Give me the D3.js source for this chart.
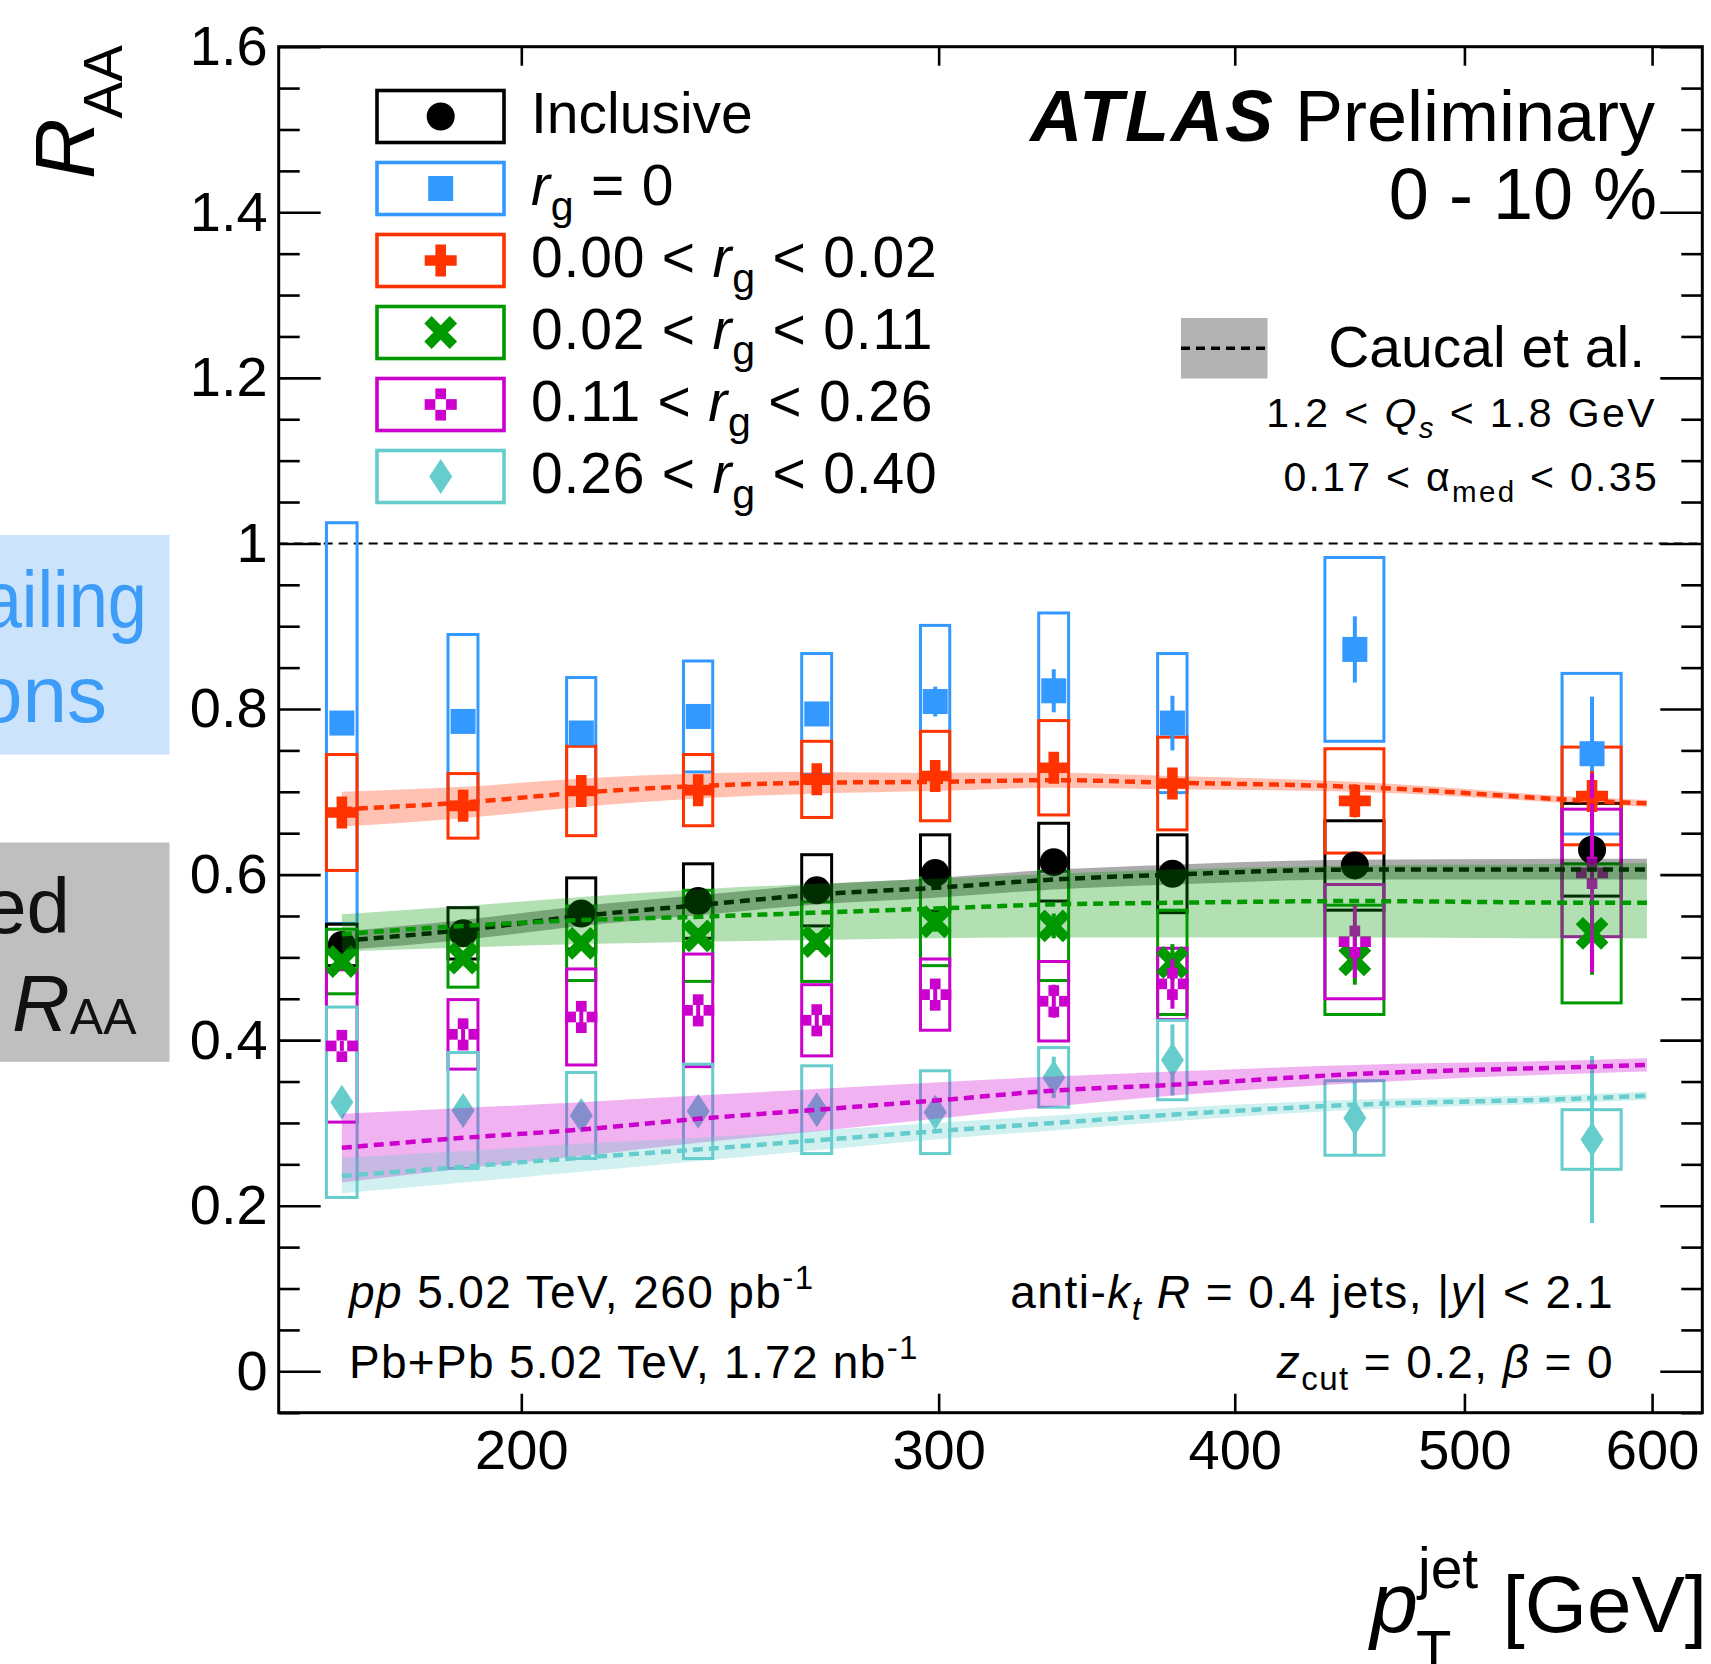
<!DOCTYPE html>
<html>
<head>
<meta charset="utf-8">
<script src="https://cdn.jsdelivr.net/npm/d3@7"></script>
<style>
  html, body { margin: 0; padding: 0; background: #fff; }
  svg { display: block; }
  text { white-space: pre; }
</style>
</head>
<body>
<svg id="chart" width="1711" height="1664"></svg>
<script>
// ---------------- data ----------------
// jet pT bin edges [GeV]
const binEdges = [158, 178, 200, 224, 251, 282, 316, 355, 398, 501, 631];
const xTickValues = [200, 300, 400, 500, 600];
const yTickValues = [0, 0.2, 0.4, 0.6, 0.8, 1, 1.2, 1.4, 1.6];
const yTickLabels = ["0", "0.2", "0.4", "0.6", "0.8", "1", "1.2", "1.4", "1.6"];

// Inclusive jets
const inclusive     = [0.515, 0.529, 0.553, 0.568, 0.581, 0.602, 0.615, 0.601, 0.611, 0.630];
const inclusiveSyst = [0.025, 0.031, 0.043, 0.045, 0.043, 0.046, 0.047, 0.047, 0.054, 0.056];
const inclusiveStat = [0.004, 0.004, 0.005, 0.005, 0.006, 0.007, 0.008, 0.009, 0.012, 0.018];
// r_g = 0
const rg0     = [0.783, 0.785, 0.771, 0.791, 0.794, 0.809, 0.822, 0.783, 0.872, 0.746];
const rg0Syst = [0.242, 0.105, 0.067, 0.067, 0.073, 0.092, 0.094, 0.084, 0.111, 0.097];
const rg0Stat = [0.006, 0.007, 0.008, 0.009, 0.011, 0.018, 0.026, 0.033, 0.040, 0.069];
// 0.00 < r_g < 0.02
const rg1     = [0.675, 0.683, 0.701, 0.702, 0.715, 0.719, 0.729, 0.710, 0.689, 0.695];
const rg1Syst = [0.070, 0.039, 0.054, 0.043, 0.046, 0.054, 0.057, 0.056, 0.063, 0.059];
const rg1Stat = [0.005, 0.005, 0.006, 0.007, 0.008, 0.010, 0.013, 0.016, 0.020, 0.030];
// 0.02 < r_g < 0.11
const rg2     = [0.495, 0.499, 0.517, 0.526, 0.519, 0.543, 0.538, 0.494, 0.497, 0.529];
const rg2Syst = [0.039, 0.035, 0.045, 0.055, 0.048, 0.053, 0.066, 0.063, 0.066, 0.084];
const rg2Stat = [0.005, 0.006, 0.007, 0.008, 0.010, 0.012, 0.015, 0.022, 0.030, 0.050];
// 0.11 < r_g < 0.26
const rg3     = [0.393, 0.407, 0.428, 0.436, 0.424, 0.455, 0.447, 0.468, 0.519, 0.602];
const rg3Syst = [0.092, 0.042, 0.058, 0.068, 0.043, 0.043, 0.048, 0.043, 0.069, 0.077];
const rg3Stat = [0.006, 0.007, 0.008, 0.010, 0.012, 0.015, 0.020, 0.030, 0.044, 0.120];
// 0.26 < r_g < 0.40
const rg4     = [0.325, 0.315, 0.309, 0.314, 0.316, 0.313, 0.355, 0.376, 0.306, 0.280];
const rg4Syst = [0.115, 0.070, 0.052, 0.057, 0.053, 0.050, 0.036, 0.048, 0.045, 0.036];
const rg4Stat = [0.008, 0.010, 0.012, 0.014, 0.016, 0.018, 0.025, 0.043, 0.045, 0.101];

// Caucal et al. calculation: central value and band edges
const theoryPt = [168, 189, 212, 237.5, 266.5, 299, 335.5, 376.5, 449.5, 566, 597];
const incTh   = [0.520, 0.533, 0.550, 0.563, 0.576, 0.584, 0.594, 0.600, 0.606, 0.606, 0.606];
const incThLo = [0.509, 0.521, 0.538, 0.551, 0.564, 0.572, 0.582, 0.588, 0.594, 0.594, 0.594];
const incThHi = [0.531, 0.545, 0.562, 0.575, 0.588, 0.596, 0.606, 0.612, 0.618, 0.619, 0.619];
const rg1Th   = [0.679, 0.687, 0.699, 0.707, 0.711, 0.712, 0.714, 0.711, 0.706, 0.689, 0.686];
const rg1ThLo = [0.658, 0.668, 0.682, 0.692, 0.698, 0.701, 0.705, 0.703, 0.700, 0.685, 0.682];
const rg1ThHi = [0.700, 0.706, 0.716, 0.722, 0.724, 0.723, 0.723, 0.719, 0.712, 0.693, 0.690];
const rg2Th   = [0.528, 0.538, 0.545, 0.549, 0.554, 0.559, 0.564, 0.566, 0.568, 0.566, 0.566];
const rg2ThLo = [0.507, 0.512, 0.516, 0.519, 0.521, 0.523, 0.524, 0.524, 0.524, 0.523, 0.523];
const rg2ThHi = [0.552, 0.562, 0.573, 0.582, 0.589, 0.595, 0.601, 0.606, 0.611, 0.613, 0.614];
const rg3Th   = [0.270, 0.282, 0.292, 0.305, 0.316, 0.327, 0.339, 0.346, 0.359, 0.368, 0.370];
const rg3ThLo = [0.228, 0.245, 0.260, 0.276, 0.290, 0.305, 0.320, 0.333, 0.348, 0.360, 0.362];
const rg3ThHi = [0.311, 0.318, 0.325, 0.333, 0.341, 0.349, 0.356, 0.362, 0.370, 0.376, 0.378];
const rg4Th   = [0.236, 0.247, 0.258, 0.268, 0.279, 0.290, 0.300, 0.310, 0.322, 0.330, 0.333];
const rg4ThLo = [0.215, 0.228, 0.241, 0.254, 0.267, 0.280, 0.291, 0.302, 0.316, 0.325, 0.328];
const rg4ThHi = [0.258, 0.266, 0.275, 0.282, 0.291, 0.300, 0.309, 0.318, 0.328, 0.335, 0.338];

// ---------------- setup ----------------
const FONT = '"Liberation Sans", Arial, Helvetica, sans-serif';
const C = {
  black: "#000000", blue: "#3399ff", red: "#ff3300",
  green: "#009900", magenta: "#cc00cc", cyan: "#66cccc"
};

const svg = d3.select("#chart");
const plot = { left: 278.7, right: 1702.3, top: 46.7, bottom: 1412.7 };
const x = d3.scaleLog().domain([158, 630]).range([plot.left, plot.right]);
const y = d3.scaleLinear().domain([-0.05, 1.6]).range([plot.bottom, plot.top]);

const mids = binEdges.slice(0, -1).map((lo, i) => (lo + binEdges[i + 1]) / 2);
const boxHalf = binEdges.slice(0, -1).map((lo, i) => (binEdges[i + 1] - lo) / 8);

// ---------------- marker shapes ----------------
function plusPath(a, b) {
  return `M${-b},${-a}H${b}V${-b}H${a}V${b}H${b}V${a}H${-b}V${b}H${-a}V${-b}H${-b}Z`;
}
function drawMarker(g, shape, cx, cy, color) {
  const m = g.append("g").attr("transform", `translate(${cx},${cy})`);
  if (shape === "circle") {
    m.append("circle").attr("r", 14).attr("fill", color);
  } else if (shape === "square") {
    m.append("rect").attr("x", -12.5).attr("y", -12.5).attr("width", 25).attr("height", 25).attr("fill", color);
  } else if (shape === "plus") {
    m.append("path").attr("d", plusPath(16, 5.3)).attr("fill", color);
  } else if (shape === "x") {
    m.append("path").attr("d", plusPath(18, 5.2)).attr("transform", "rotate(45)").attr("fill", color);
  } else if (shape === "opencross") {
    const c = 10.7;
    [[0, -c], [-c, 0], [c, 0], [0, c]].forEach(([dx, dy]) => {
      m.append("rect").attr("x", dx - c / 2).attr("y", dy - c / 2)
        .attr("width", c).attr("height", c).attr("fill", color);
    });
  } else if (shape === "diamond") {
    m.append("path").attr("d", "M0,-17.5L11.5,0L0,17.5L-11.5,0Z").attr("fill", color);
  }
}

// rich text with italic / bold / sub / superscript pieces
function rich(g, x0, y0, anchor, size, segs, spacing = 0, color = "#000") {
  const t = g.append("text").attr("x", x0).attr("y", y0)
    .attr("text-anchor", anchor).attr("font-size", size)
    .attr("font-family", FONT).attr("fill", color)
    .attr("letter-spacing", spacing);
  let cur = 0;
  segs.forEach(s => {
    const sp = t.append("tspan").text(s.t);
    let off = 0, fs = size;
    if (s.sub) { off = size * 0.27; fs = size * 0.72; }
    if (s.sup) { off = -size * 0.42; fs = size * 0.72; }
    sp.attr("dy", off - cur).attr("font-size", fs);
    if (s.i) sp.attr("font-style", "italic");
    if (s.b) sp.attr("font-weight", "bold");
    if (s.ls != null) sp.attr("letter-spacing", s.ls);
    cur = off;
  });
  return t;
}

// ---------------- side panels ----------------
const side = svg.append("g");
side.append("rect").attr("x", 0).attr("y", 535).attr("width", 169.5).attr("height", 219.6).attr("fill", "#cce3fc");
side.append("text").attr("transform", "translate(147,627) scale(0.88,1)").attr("text-anchor", "end")
  .attr("font-family", FONT).attr("font-size", 80).attr("fill", "#3d9cf7").text("ailing");
side.append("text").attr("x", 107).attr("y", 722).attr("text-anchor", "end")
  .attr("font-family", FONT).attr("font-size", 80).attr("fill", "#3d9cf7").text("ons");
side.append("rect").attr("x", 0).attr("y", 842.5).attr("width", 169.5).attr("height", 219.3).attr("fill", "#bfbfbf");
side.append("text").attr("x", 70).attr("y", 932.5).attr("text-anchor", "end")
  .attr("font-family", FONT).attr("font-size", 78).attr("fill", "#111").text("ed");
{
  const t = side.append("text").attr("x", 12).attr("y", 1031).attr("font-family", FONT).attr("fill", "#111");
  t.append("tspan").attr("font-size", 80).attr("font-style", "italic").text("R");
  t.append("tspan").attr("font-size", 50).attr("dy", 3).text("AA");
}

// ---------------- axes and frame ----------------
const axes = svg.append("g");
function styleAxis(g, size) {
  g.select(".domain").remove();
  g.selectAll(".tick line").attr("stroke", "#000").attr("stroke-width", 2.6);
  g.selectAll(".tick text").attr("font-family", FONT).attr("font-size", size).attr("fill", "#000");
}
const yMinorValues = d3.range(-1, 33).filter(k => k % 4 !== 0).map(k => k * 0.05);

axes.append("g").attr("transform", `translate(${plot.left},0)`)
  .call(d3.axisLeft(y).tickValues(yTickValues).tickFormat((d, i) => yTickLabels[i]).tickSize(-42).tickPadding(11))
  .call(g => styleAxis(g, 56));
axes.append("g").attr("transform", `translate(${plot.left},0)`)
  .call(d3.axisLeft(y).tickValues(yMinorValues).tickFormat("").tickSize(-21))
  .call(g => styleAxis(g, 56));
axes.append("g").attr("transform", `translate(${plot.right},0)`)
  .call(d3.axisRight(y).tickValues(yTickValues).tickFormat("").tickSize(-42))
  .call(g => styleAxis(g, 56));
axes.append("g").attr("transform", `translate(${plot.right},0)`)
  .call(d3.axisRight(y).tickValues(yMinorValues).tickFormat("").tickSize(-21))
  .call(g => styleAxis(g, 56));
axes.append("g").attr("transform", `translate(0,${plot.bottom})`)
  .call(d3.axisBottom(x).tickValues(xTickValues).tickFormat(d3.format("d")).tickSize(-19).tickPadding(17))
  .call(g => styleAxis(g, 56));
axes.append("g").attr("transform", `translate(0,${plot.top})`)
  .call(d3.axisTop(x).tickValues(xTickValues).tickFormat("").tickSize(-19))
  .call(g => styleAxis(g, 56));

// unity reference line
axes.append("line").attr("x1", plot.left).attr("x2", plot.right)
  .attr("y1", y(1)).attr("y2", y(1))
  .attr("stroke", "#000").attr("stroke-width", 2).attr("stroke-dasharray", "9,6");

// ---------------- systematic boxes ----------------
const series = [
  { key: "inc", v: inclusive, s: inclusiveSyst, st: inclusiveStat, color: C.black, shape: "circle" },
  { key: "rg0", v: rg0, s: rg0Syst, st: rg0Stat, color: C.blue, shape: "square" },
  { key: "rg1", v: rg1, s: rg1Syst, st: rg1Stat, color: C.red, shape: "plus" },
  { key: "rg2", v: rg2, s: rg2Syst, st: rg2Stat, color: C.green, shape: "x" },
  { key: "rg3", v: rg3, s: rg3Syst, st: rg3Stat, color: C.magenta, shape: "opencross" },
  { key: "rg4", v: rg4, s: rg4Syst, st: rg4Stat, color: C.cyan, shape: "diamond" }
];
const byKey = Object.fromEntries(series.map(s => [s.key, s]));

const boxes = svg.append("g");
["rg0", "inc", "rg1", "rg2", "rg3", "rg4"].forEach(k => {
  const s = byKey[k];
  boxes.append("g").selectAll("rect").data(s.v).join("rect")
    .attr("x", (d, i) => x(mids[i] - boxHalf[i]))
    .attr("width", (d, i) => x(mids[i] + boxHalf[i]) - x(mids[i] - boxHalf[i]))
    .attr("y", (d, i) => y(d + s.s[i]))
    .attr("height", (d, i) => y(d - s.s[i]) - y(d + s.s[i]))
    .attr("fill", "none").attr("stroke", s.color).attr("stroke-width", 3);
});

// ---------------- statistical bars and markers ----------------
const pts = svg.append("g");
series.forEach(s => {
  const g = pts.append("g");
  g.selectAll("line").data(s.v).join("line")
    .attr("x1", (d, i) => x(mids[i])).attr("x2", (d, i) => x(mids[i]))
    .attr("y1", (d, i) => y(d + s.st[i])).attr("y2", (d, i) => y(d - s.st[i]))
    .attr("stroke", s.color).attr("stroke-width", 4);
  s.v.forEach((d, i) => drawMarker(g, s.shape, x(mids[i]), y(d), s.color));
});

// ---------------- theory bands ----------------
const theory = [
  { c: incTh, lo: incThLo, hi: incThHi, color: "#000000", op: 0.33, line: "#000000" },
  { c: rg2Th, lo: rg2ThLo, hi: rg2ThHi, color: C.green, op: 0.3, line: C.green },
  { c: rg1Th, lo: rg1ThLo, hi: rg1ThHi, color: C.red, op: 0.3, line: C.red },
  { c: rg3Th, lo: rg3ThLo, hi: rg3ThHi, color: C.magenta, op: 0.3, line: C.magenta },
  { c: rg4Th, lo: rg4ThLo, hi: rg4ThHi, color: C.cyan, op: 0.3, line: C.cyan }
];
const th = svg.append("g");
theory.forEach(t => {
  const area = d3.area()
    .x((d, i) => x(theoryPt[i]))
    .y0((d, i) => y(t.lo[i]))
    .y1((d, i) => y(t.hi[i]))
    .curve(d3.curveMonotoneX);
  const line = d3.line()
    .x((d, i) => x(theoryPt[i]))
    .y((d, i) => y(t.c[i]))
    .curve(d3.curveMonotoneX);
  th.append("path").datum(t.c).attr("d", area).attr("fill", t.color).attr("fill-opacity", t.op);
  th.append("path").datum(t.c).attr("d", line).attr("fill", "none")
    .attr("stroke", t.line).attr("stroke-width", 4.5).attr("stroke-dasharray", "10,6");
});

// frame on top
svg.append("rect").attr("x", plot.left).attr("y", plot.top)
  .attr("width", plot.right - plot.left).attr("height", plot.bottom - plot.top)
  .attr("fill", "none").attr("stroke", "#000").attr("stroke-width", 3);

// ---------------- legend ----------------
const leg = svg.append("g");
const legRows = [
  { key: "inc", ls: 0, segs: [{ t: "Inclusive" }] },
  { key: "rg0", ls: 0.8, segs: [{ t: "r", i: true }, { t: "g", sub: true }, { t: " = 0" }] },
  { key: "rg1", ls: 0.8, segs: [{ t: "0.00 < " }, { t: "r", i: true }, { t: "g", sub: true }, { t: " < 0.02" }] },
  { key: "rg2", ls: 0.8, segs: [{ t: "0.02 < " }, { t: "r", i: true }, { t: "g", sub: true }, { t: " < 0.11" }] },
  { key: "rg3", ls: 0.8, segs: [{ t: "0.11 < " }, { t: "r", i: true }, { t: "g", sub: true }, { t: " < 0.26" }] },
  { key: "rg4", ls: 0.8, segs: [{ t: "0.26 < " }, { t: "r", i: true }, { t: "g", sub: true }, { t: " < 0.40" }] }
];
legRows.forEach((r, i) => {
  const s = byKey[r.key];
  const cy = 116.5 + i * 72;
  leg.append("rect").attr("x", 377).attr("y", cy - 26).attr("width", 127).attr("height", 52)
    .attr("fill", "none").attr("stroke", s.color).attr("stroke-width", 3.6);
  drawMarker(leg, s.shape, 440.7, cy, s.color);
  rich(leg, 531, cy + 16, "start", 57, r.segs, r.ls);
});

// model legend entry
leg.append("rect").attr("x", 1181).attr("y", 318).attr("width", 86.5).attr("height", 60.5).attr("fill", "#b2b2b2");
leg.append("line").attr("x1", 1181).attr("x2", 1267.5).attr("y1", 348.2).attr("y2", 348.2)
  .attr("stroke", "#000").attr("stroke-width", 3.5).attr("stroke-dasharray", "9,6");
rich(leg, 1645, 367, "end", 57, [{ t: "Caucal et al." }]);
rich(leg, 1657, 427, "end", 41, [{ t: "1.2 < " }, { t: "Q", i: true }, { t: "s", i: true, sub: true }, { t: " < 1.8 GeV" }], 2.4);
rich(leg, 1659, 491, "end", 41, [{ t: "0.17 < \u03B1" }, { t: "med", sub: true }, { t: " < 0.35" }], 2.3);

// ---------------- labels ----------------
const lab = svg.append("g");
rich(lab, 1655, 141, "end", 72, [{ t: "ATLAS", b: true, i: true, ls: 2 }, { t: " Preliminary" }]);
rich(lab, 1657, 218.6, "end", 72, [{ t: "0 - 10 %" }]);

rich(lab, 349, 1308, "start", 46, [{ t: "pp", i: true }, { t: " 5.02 TeV, 260 pb" }, { t: "-1", sup: true }], 1.4);
rich(lab, 349, 1378, "start", 46, [{ t: "Pb+Pb 5.02 TeV, 1.72 nb" }, { t: "-1", sup: true }], 1.3);
rich(lab, 1614, 1308, "end", 46, [{ t: "anti-" }, { t: "k", i: true }, { t: "t", i: true, sub: true },
  { t: " " }, { t: "R", i: true }, { t: " = 0.4 jets, |" }, { t: "y", i: true }, { t: "| < 2.1" }], 1.5);
rich(lab, 1614, 1378, "end", 46, [{ t: "z", i: true }, { t: "cut", sub: true }, { t: " = 0.2, " },
  { t: "\u03B2", i: true }, { t: " = 0" }], 1.4);

// x-axis title
lab.append("text").attr("x", 1707).attr("y", 1632).attr("text-anchor", "end")
  .attr("font-family", FONT).attr("font-size", 80).text("[GeV]");
lab.append("text").attr("x", 1418).attr("y", 1632).attr("text-anchor", "end")
  .attr("font-family", FONT).attr("font-size", 86).attr("font-style", "italic").text("p");
lab.append("text").attr("x", 1418).attr("y", 1588).attr("text-anchor", "start")
  .attr("font-family", FONT).attr("font-size", 57).text("jet");
lab.append("text").attr("x", 1416).attr("y", 1671).attr("text-anchor", "start")
  .attr("font-family", FONT).attr("font-size", 58).text("T");

// y-axis title
{
  const t = lab.append("text").attr("transform", "translate(94,45) rotate(-90)")
    .attr("text-anchor", "end").attr("font-family", FONT);
  t.append("tspan").attr("font-size", 84).attr("font-style", "italic").text("R");
  t.append("tspan").attr("font-size", 55).attr("dy", 28).text("AA");
}
</script>
</body>
</html>
